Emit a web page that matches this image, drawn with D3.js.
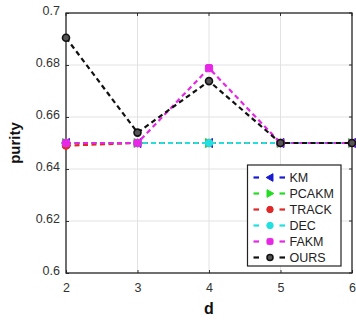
<!DOCTYPE html>
<html>
<head>
<meta charset="utf-8">
<script src="https://cdn.jsdelivr.net/npm/d3@7"></script>
<style>
  html, body { margin: 0; padding: 0; background: #fff; }
  svg { display: block; font-family: "Liberation Sans", Arial, sans-serif; }
</style>
</head>
<body>
<svg id="chart" width="356" height="321"></svg>
<script>
// Purity against d for each clustering method
const dValues = [2, 3, 4, 5, 6];
const yTicks = [0.6, 0.62, 0.64, 0.66, 0.68, 0.7];
const kmPurity    = [0.650, 0.650, 0.650, 0.650, 0.650];
const pcakmPurity = [0.650, 0.650, 0.650, 0.650, 0.650];
const trackPurity = [0.649, 0.650, 0.650, 0.650, 0.650];
const decPurity   = [0.650, 0.650, 0.650, 0.650, 0.650];
const fakmPurity  = [0.650, 0.650, 0.6788, 0.650, 0.650];
const oursPurity  = [0.6905, 0.654, 0.6738, 0.650, 0.650];

const methods = [
  { name: "KM",    values: kmPurity,    color: "#1a1ad0", marker: "triLeft" },
  { name: "PCAKM", values: pcakmPurity, color: "#22dd22", marker: "triRight" },
  { name: "TRACK", values: trackPurity, color: "#e02828", marker: "circle" },
  { name: "DEC",   values: decPurity,   color: "#22e0e0", marker: "circle" },
  { name: "FAKM",  values: fakmPurity,  color: "#e628e6", marker: "square" },
  { name: "OURS",  values: oursPurity,  color: "#111111", marker: "ring" }
];

const svg = d3.select("#chart");
const plotL = 66, plotR = 352, plotT = 13, plotB = 273;

const x = d3.scaleLinear().domain([2, 6]).range([plotL, plotR]);
const y = d3.scaleLinear().domain([0.6, 0.7]).range([plotB, plotT]);

// grid
const grid = svg.append("g");
grid.selectAll(".gx").data(dValues.slice(1, -1)).enter().append("line")
  .attr("x1", d => x(d)).attr("x2", d => x(d))
  .attr("y1", plotT).attr("y2", plotB)
  .attr("stroke", "#e2e2e2").attr("stroke-width", 1);
grid.selectAll(".gy").data(yTicks.slice(1, -1)).enter().append("line")
  .attr("x1", plotL).attr("x2", plotR)
  .attr("y1", d => y(d)).attr("y2", d => y(d))
  .attr("stroke", "#e2e2e2").attr("stroke-width", 1);

// axes with inward ticks
const xAxis = svg.append("g").attr("transform", `translate(0,${plotB})`)
  .call(d3.axisBottom(x).tickValues(dValues).tickFormat(d3.format("d"))
    .tickSizeInner(-3).tickSizeOuter(0).tickPadding(8));
const yAxis = svg.append("g").attr("transform", `translate(${plotL},0)`)
  .call(d3.axisLeft(y).tickValues(yTicks).tickFormat(d => String(+d.toFixed(2)))
    .tickSizeInner(-3).tickSizeOuter(0).tickPadding(6));
[xAxis, yAxis].forEach(a => {
  a.select(".domain").remove();
  a.selectAll("line").attr("stroke", "#333");
  a.selectAll("text").attr("fill", "#333").style("font-size", "12.5px");
});
xAxis.selectAll("text").attr("dy", "0.9em");
yAxis.selectAll("text").attr("dy", "0.1em");

// top and right ticks
svg.append("g").selectAll("line").data(dValues).enter().append("line")
  .attr("x1", d => x(d)).attr("x2", d => x(d)).attr("y1", plotT).attr("y2", plotT + 3)
  .attr("stroke", "#333");
svg.append("g").selectAll("line").data(yTicks).enter().append("line")
  .attr("x1", plotR - 3).attr("x2", plotR).attr("y1", d => y(d)).attr("y2", d => y(d))
  .attr("stroke", "#333");

// frame
svg.append("rect").attr("x", plotL).attr("y", plotT)
  .attr("width", plotR - plotL).attr("height", plotB - plotT)
  .attr("fill", "none").attr("stroke", "#222").attr("stroke-width", 1.3);

// axis titles
svg.append("text").attr("x", (plotL + plotR) / 2).attr("y", 314)
  .attr("text-anchor", "middle").attr("font-weight", "bold")
  .style("font-size", "16px").attr("fill", "#111").text("d");
svg.append("text").attr("transform", `translate(20,${(plotT + plotB) / 2}) rotate(-90)`)
  .attr("text-anchor", "middle").attr("font-weight", "bold")
  .style("font-size", "15px").attr("fill", "#111").text("purity");

function drawMarker(g, type, color, cx, cy, s) {
  s = s || 1;
  if (type === "circle") {
    g.append("circle").attr("cx", cx).attr("cy", cy).attr("r", 3.8 * s)
      .attr("fill", color).attr("stroke", color).attr("stroke-width", 1);
  } else if (type === "ring") {
    g.append("circle").attr("cx", cx).attr("cy", cy).attr("r", 3.5 * s)
      .attr("fill", "#555").attr("stroke", color).attr("stroke-width", 1.6);
  } else if (type === "square") {
    g.append("rect").attr("x", cx - 3.6 * s).attr("y", cy - 3.6 * s)
      .attr("width", 7.2 * s).attr("height", 7.2 * s).attr("rx", 1.5)
      .attr("fill", color).attr("stroke", color);
  } else if (type === "triLeft") {
    g.append("path").attr("d", `M${cx - 4.5 * s},${cy} L${cx + 3.5 * s},${cy - 4.5 * s} L${cx + 3.5 * s},${cy + 4.5 * s} Z`)
      .attr("fill", color).attr("stroke", color);
  } else if (type === "triRight") {
    g.append("path").attr("d", `M${cx + 4.5 * s},${cy} L${cx - 3.5 * s},${cy - 4.5 * s} L${cx - 3.5 * s},${cy + 4.5 * s} Z`)
      .attr("fill", color).attr("stroke", color);
  }
}

// series
const line = d3.line().x((d, i) => x(dValues[i])).y(d => y(d));
methods.forEach(m => {
  const g = svg.append("g");
  g.append("path").datum(m.values).attr("d", line)
    .attr("fill", "none").attr("stroke", m.color)
    .attr("stroke-width", 2.2).attr("stroke-dasharray", "5,3.5");
  m.values.forEach((v, i) => drawMarker(g, m.marker, m.color, x(dValues[i]), y(v)));
});

// legend
const lg = svg.append("g");
const lx = 247.5, ly = 165, lw = 93.5, lh = 101;
lg.append("rect").attr("x", lx).attr("y", ly).attr("width", lw).attr("height", lh)
  .attr("fill", "#fff").attr("stroke", "#222").attr("stroke-width", 1.2);
methods.forEach((m, i) => {
  const cy = ly + 12.5 + i * 16;
  [[lx + 6, lx + 11.5], [lx + 32, lx + 37.5]].forEach(([a, b]) => {
    lg.append("line").attr("x1", a).attr("x2", b).attr("y1", cy).attr("y2", cy)
      .attr("stroke", m.color).attr("stroke-width", 2.2);
  });
  drawMarker(lg, m.marker, m.color, lx + 22.5, cy, 0.85);
  lg.append("text").attr("x", lx + 42).attr("y", cy).attr("dy", "0.36em")
    .style("font-size", "12.5px").attr("fill", "#222").text(m.name);
});
</script>
</body>
</html>
